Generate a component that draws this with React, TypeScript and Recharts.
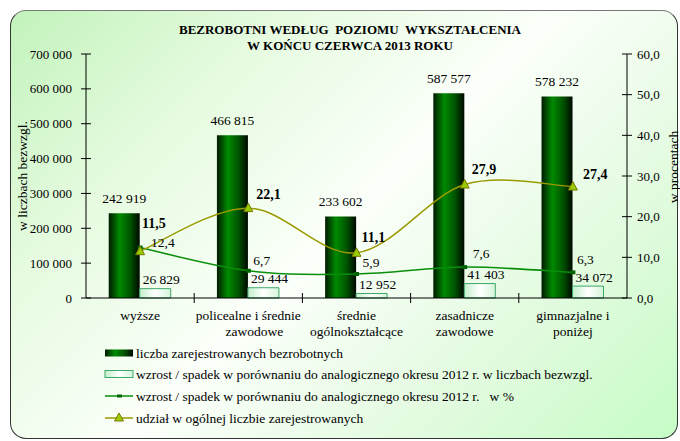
import {
  Bar,
  ComposedChart,
  LabelList,
  Line,
  XAxis,
  YAxis,
} from 'recharts'

const categories = [
  'wyższe',
  'policealne i średnie\nzawodowe',
  'średnie\nogólnokształcące',
  'zasadnicze\nzawodowe',
  'gimnazjalne i\nponiżej',
]
const registered = [242919, 466815, 233602, 587577, 578232]
const changeAbs = [26829, 29444, 12952, 41403, 34072]
const changePct = [12.4, 6.7, 5.9, 7.6, 6.3]
const share = [11.5, 22.1, 11.1, 27.9, 27.4]

const leftTicks = [0, 100000, 200000, 300000, 400000, 500000, 600000, 700000]
const rightTicks = [0, 10, 20, 30, 40, 50, 60]

const data = categories.map((name, i) => ({
  name,
  registered: registered[i],
  changeAbs: changeAbs[i],
  changePct: changePct[i],
  share: share[i],
}))

// recznie dopasowane przesuniecia etykiet linii (jak w oryginale z Excela)
const pctNudge = [
  [11, -5],
  [5, -10],
  [6, -12],
  [8, -14],
  [4, -13],
]
const shareNudge = [
  [2, -28],
  [8, -14],
  [5, -15],
  [7, -15],
  [10, -12],
]

const FONT = '"Liberation Serif", "Times New Roman", serif'
const GREEN = '#0a8f0a'
const OLIVE = '#9a9a00'

const fmtInt = (v: number) => String(v).replace(/\B(?=(\d{3})+(?!\d))/g, ' ')
const fmtPct = (v: number) => v.toFixed(1).replace('.', ',')

// wygladzanie jak w Excelu (Catmull-Rom, punkty kontrolne = +-1/6 roznicy sasiadow)
function excelSmooth(context: any) {
  let pts: number[][] = []
  return {
    areaStart() {},
    areaEnd() {},
    lineStart() {
      pts = []
    },
    point(x: number, y: number) {
      pts.push([+x, +y])
    },
    lineEnd() {
      if (!pts.length) return
      context.moveTo(pts[0][0], pts[0][1])
      for (let i = 0; i < pts.length - 1; i++) {
        const p0 = pts[i - 1] || pts[i]
        const p1 = pts[i]
        const p2 = pts[i + 1]
        const p3 = pts[i + 2] || pts[i + 1]
        context.bezierCurveTo(
          p1[0] + (p2[0] - p0[0]) / 6,
          p1[1] + (p2[1] - p0[1]) / 6,
          p2[0] - (p3[0] - p1[0]) / 6,
          p2[1] - (p3[1] - p1[1]) / 6,
          p2[0],
          p2[1],
        )
      }
    },
  }
}

function LeftTick({ x, y, payload }: any) {
  return (
    <g>
      <line x1={x - 5} x2={x + 5} y1={y} y2={y} stroke="#000" />
      <text x={x - 14} y={y} textAnchor="end" dominantBaseline="central" fontSize={13} fontFamily={FONT} fill="#000">
        {fmtInt(payload.value)}
      </text>
    </g>
  )
}

function RightTick({ x, y, payload }: any) {
  return (
    <g>
      <line x1={x - 5} x2={x + 5} y1={y} y2={y} stroke="#000" />
      <text x={x + 10} y={y} textAnchor="start" dominantBaseline="central" fontSize={13} fontFamily={FONT} fill="#000">
        {fmtPct(payload.value)}
      </text>
    </g>
  )
}

const BAND = 541 / categories.length

function CategoryTick({ x, y, payload, index }: any) {
  const lines = String(payload.value).split('\n')
  return (
    <g>
      {index > 0 && <line x1={x - BAND / 2} x2={x - BAND / 2} y1={y - 5} y2={y + 5} stroke="#000" />}
      {lines.map((l, i) => (
        <text
          key={i}
          x={x + (i === 1 && index === 1 ? 6 : 0)}
          y={y + 17 + i * 16}
          dominantBaseline="central"
          textAnchor="middle"
          fontSize={13.5}
          fontFamily={FONT}
          fill="#000"
        >
          {l}
        </text>
      ))}
    </g>
  )
}

function DarkLabel({ x, y, width, value }: any) {
  return (
    <text x={x + width / 2} y={y - 15} textAnchor="middle" dominantBaseline="central" fontSize={13.5} fontFamily={FONT} fill="#000">
      {fmtInt(value)}
    </text>
  )
}

function LightLabel({ x, y, value }: any) {
  return (
    <text x={x + 3} y={y - 9} textAnchor="start" dominantBaseline="central" fontSize={13.5} fontFamily={FONT} fill="#000">
      {fmtInt(value)}
    </text>
  )
}

function PctLabel({ x, y, value, index }: any) {
  const [dx, dy] = pctNudge[index] || [4, -12]
  return (
    <text x={x + dx} y={y + dy} textAnchor="start" dominantBaseline="central" fontSize={13.5} fontFamily={FONT} fill="#000">
      {fmtPct(value)}
    </text>
  )
}

function ShareLabel({ x, y, value, index }: any) {
  const [dx, dy] = shareNudge[index] || [6, -14]
  return (
    <text
      x={x + dx}
      y={y + dy}
      textAnchor="start"
      dominantBaseline="central"
      fontSize={14}
      fontWeight="bold"
      fontFamily={FONT}
      fill="#000"
    >
      {fmtPct(value)}
    </text>
  )
}

function SquareDot({ cx, cy, index }: any) {
  return <rect key={`sq-${index}`} x={cx - 2.5} y={cy - 2} width={5} height={4} fill="#006400" />
}

function TriangleDot({ cx, cy, index }: any) {
  return (
    <polygon
      key={`tr-${index}`}
      points={`${cx},${cy - 5} ${cx + 4.5},${cy + 3.5} ${cx - 4.5},${cy + 3.5}`}
      fill="#99cc00"
      stroke="#7a7a00"
      strokeWidth={1}
    />
  )
}

function Legend() {
  const rows = [353, 374, 396, 418]
  const textProps = { fontSize: 13.5, fontFamily: FONT, fill: '#000', dominantBaseline: 'central' as const }
  return (
    <g>
      <rect x={105} y={rows[0] - 3.5} width={28} height={7} fill="url(#darkBarH)" />
      <text x={136} y={rows[0]} {...textProps}>liczba zarejestrowanych bezrobotnych</text>

      <rect x={105} y={rows[1] - 3.5} width={28} height={7} fill="url(#lightBarH)" stroke="#3ea86a" />
      <text x={136} y={rows[1]} {...textProps}>
        wzrost / spadek w porównaniu do analogicznego okresu 2012 r. w liczbach bezwzgl.
      </text>

      <line x1={105} x2={133} y1={rows[2]} y2={rows[2]} stroke={GREEN} strokeWidth={1.5} />
      <rect x={117} y={rows[2] - 1.5} width={5} height={3} fill="#006400" />
      <text x={136} y={rows[2]} {...textProps} style={{ whiteSpace: 'pre' }}>
        {'wzrost / spadek w porównaniu do analogicznego okresu 2012 r.   w %'}
      </text>

      <line x1={105} x2={133} y1={rows[3]} y2={rows[3]} stroke={OLIVE} strokeWidth={1.5} />
      <polygon points={`119,${rows[3] - 5} 123.5,${rows[3] + 3} 114.5,${rows[3] + 3}`} fill="#99cc00" stroke="#7a7a00" />
      <text x={136} y={rows[3]} {...textProps}>udział w ogólnej liczbie  zarejestrowanych</text>
    </g>
  )
}

export default function App() {
  return (
    <div style={{ position: 'absolute', left: 0, top: 0, width: 680, height: 441, background: '#fff', overflow: 'hidden' }}>
      <div
        style={{
          position: 'absolute',
          left: 10,
          top: 10,
          width: 668,
          height: 429,
          boxSizing: 'border-box',
          borderRadius: 16,
          border: '1.5px solid #333',
          borderTopColor: '#777',
          background: 'linear-gradient(135deg, #c2f3bb 0%, #e6fbe0 25%, #fbfffa 50%, #e3fbe0 75%, #c6fcc6 100%)',
        }}
      />
      <svg width={0} height={0} style={{ position: 'absolute' }}>
        <defs>
          <linearGradient id="darkBarH" x1="0" y1="0" x2="1" y2="0">
            <stop offset="0%" stopColor="#001a00" />
            <stop offset="35%" stopColor="#008a00" />
            <stop offset="70%" stopColor="#005200" />
            <stop offset="100%" stopColor="#000800" />
          </linearGradient>
          <linearGradient id="lightBarH" x1="0" y1="0" x2="1" y2="0">
            <stop offset="0%" stopColor="#c4f0cc" />
            <stop offset="50%" stopColor="#ffffff" />
            <stop offset="100%" stopColor="#d4f5d8" />
          </linearGradient>
        </defs>
      </svg>
      <div style={{ position: 'absolute', left: 0, top: 0 }}>
        <ComposedChart
          width={680}
          height={441}
          data={data}
          margin={{ top: 54, right: 0, left: 16, bottom: 103 }}
          barGap={0}
          barCategoryGap="21%"
        >
          <XAxis
            dataKey="name"
            height={40}
            interval={0}
            tickLine={false}
            tickSize={0}
            tickMargin={0}
            axisLine={{ stroke: '#000' }}
            tick={<CategoryTick />}
          />
          <YAxis
            yAxisId="left"
            width={70}
            domain={[0, 700000]}
            ticks={leftTicks}
            interval={0}
            tickLine={false}
            tickSize={0}
            tickMargin={0}
            axisLine={{ stroke: '#000' }}
            tick={<LeftTick />}
          />
          <YAxis
            yAxisId="right"
            orientation="right"
            width={53}
            domain={[0, 60]}
            ticks={rightTicks}
            interval={0}
            tickLine={false}
            tickSize={0}
            tickMargin={0}
            axisLine={{ stroke: '#000' }}
            tick={<RightTick />}
          />
          <Bar yAxisId="left" dataKey="registered" fill="url(#darkBarH)" isAnimationActive={false}>
            <LabelList dataKey="registered" content={<DarkLabel />} />
          </Bar>
          <Bar yAxisId="left" dataKey="changeAbs" fill="url(#lightBarH)" stroke="#3ea86a" strokeWidth={1} isAnimationActive={false}>
            <LabelList dataKey="changeAbs" content={<LightLabel />} />
          </Bar>
          <Line
            yAxisId="right"
            type={excelSmooth as any}
            dataKey="changePct"
            stroke={GREEN}
            strokeWidth={1.5}
            dot={SquareDot}
            activeDot={false}
            isAnimationActive={false}
          >
            <LabelList dataKey="changePct" content={<PctLabel />} />
          </Line>
          <Line
            yAxisId="right"
            type={excelSmooth as any}
            dataKey="share"
            stroke={OLIVE}
            strokeWidth={1.5}
            dot={TriangleDot}
            activeDot={false}
            isAnimationActive={false}
          >
            <LabelList dataKey="share" content={<ShareLabel />} />
          </Line>
        </ComposedChart>
      </div>
      <svg width={680} height={441} style={{ position: 'absolute', left: 0, top: 0, pointerEvents: 'none' }}>
        <text x={350} y={29} textAnchor="middle" dominantBaseline="central" fontSize={13} fontWeight="bold" fontFamily={FONT} style={{ whiteSpace: 'pre' }}>
          {'BEZROBOTNI WEDŁUG  POZIOMU  WYKSZTAŁCENIA'}
        </text>
        <text x={350} y={45} textAnchor="middle" dominantBaseline="central" fontSize={13} fontWeight="bold" fontFamily={FONT} style={{ whiteSpace: 'pre' }}>
          {'W KOŃCU CZERWCA 2013 ROKU'}
        </text>
        <text
          x={22}
          y={176}
          textAnchor="middle"
          dominantBaseline="central"
          fontSize={13.5}
          fontFamily={FONT}
          transform="rotate(-90 22 176)"
        >
          w liczbach bezwzgl.
        </text>
        <text
          x={673}
          y={167}
          textAnchor="middle"
          dominantBaseline="central"
          fontSize={13.5}
          fontFamily={FONT}
          transform="rotate(-90 673 167)"
        >
          w procentach
        </text>
        <Legend />
      </svg>
    </div>
  )
}
